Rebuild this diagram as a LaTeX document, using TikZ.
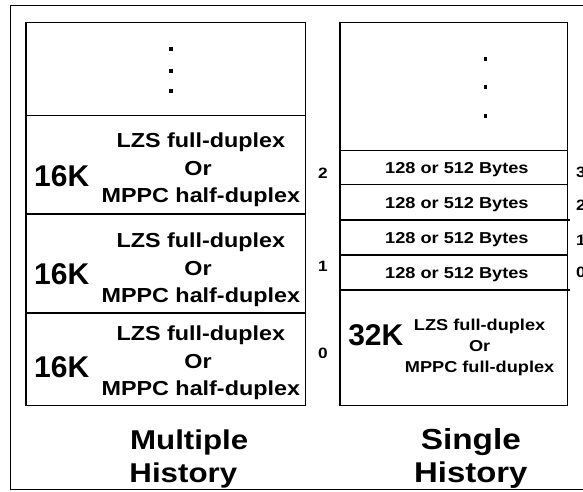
\documentclass[tikz,border=0pt]{standalone}
\usepackage{fontspec}
\setmainfont{Liberation Sans}[FakeStretch=1.15]
\newfontfamily\plainsans{Liberation Sans}
\begin{document}
\begin{tikzpicture}[x=1pt,y=-1pt,
  frame/.style={line width=1pt},
  cell/.style={line width=1.2pt},
  dotmark/.style={fill=black},
  txt/.style={anchor=base,inner sep=0pt,font=\bfseries\fontsize{20.3}{24}\selectfont},
  smalltxt/.style={anchor=base,inner sep=0pt,font=\bfseries\fontsize{15.8}{19}\selectfont},
  size/.style={anchor=base,inner sep=0pt,font=\plainsans\bfseries\fontsize{30}{36}\selectfont},
  idx/.style={anchor=base,inner sep=0pt,font=\bfseries\fontsize{15}{18}\selectfont},
  title/.style={anchor=base,inner sep=0pt,font=\bfseries\fontsize{27.2}{32}\selectfont},
]
\useasboundingbox (0,0) rectangle (583,491);
\fill[white] (0,0) rectangle (583,491);

% outer frame (its right side lies past the page edge)
\draw[frame] (10,5) rectangle (600,489);

% ---- multiple history column ----
\draw[cell] (26,22.7) rectangle (305.7,405.7);
\draw[cell] (26,115.7) -- (305.7,115.7);
\draw[cell] (26,214) -- (305.7,214);
\draw[cell] (26,313) -- (305.7,313);
\foreach \y in {49,71,91} \fill[dotmark] (169.3,\y-1.7) rectangle ++(3.4,3.4);

\node[size] (m2k) at (61.7,186.7) {16K};
\node[txt]  (m2a) at (200.8,147.3) {LZS full-duplex};
\node[txt]  (m2b) at (198,175) {Or};
\node[txt]  (m2c) at (200.8,202.7) {MPPC half-duplex};

\node[size] (m1k) at (61.7,284) {16K};
\node[txt]  (m1a) at (200.8,247.3) {LZS full-duplex};
\node[txt]  (m1b) at (198,275.7) {Or};
\node[txt]  (m1c) at (200.8,302.3) {MPPC half-duplex};

\node[size] (m0k) at (61.7,377.3) {16K};
\node[txt]  (m0a) at (200.8,340.7) {LZS full-duplex};
\node[txt]  (m0b) at (198,368.3) {Or};
\node[txt]  (m0c) at (200.8,395.7) {MPPC half-duplex};

\node[idx] (l2) at (323,178.7) {2};
\node[idx] (l1) at (323,271.4) {1};
\node[idx] (l0) at (323,358) {0};

% ---- single history column ----
\draw[cell] (340,22.7) rectangle (567.3,405.7);
\draw[cell] (340,150.7) -- (567.3,150.7);
\draw[cell] (340,184.3) -- (567.3,184.3);
\draw[cell] (340,220) -- (569.5,220);
\draw[cell] (340,255) -- (567.3,255);
\draw[cell] (340,290) -- (569.5,290);
\foreach \y in {59,87,116} \fill[dotmark] (483.8,\y-1.8) rectangle ++(3.6,3.6);

\node[smalltxt] (b3) at (456.9,173.3) {128 or 512 Bytes};
\node[smalltxt] (b2) at (456.9,208) {128 or 512 Bytes};
\node[smalltxt] (b1) at (456.9,243.3) {128 or 512 Bytes};
\node[smalltxt] (b0) at (456.9,278) {128 or 512 Bytes};

\node[idx] (r3) at (581,177) {3};
\node[idx] (r2) at (581,210.5) {2};
\node[idx] (r1) at (581,245) {1};
\node[idx] (r0) at (581,277.5) {0};

\node[size]     (s32) at (375.8,345.7) {32K};
\node[smalltxt] (sa)  at (479.6,330.7) {LZS full-duplex};
\node[smalltxt] (sb)  at (479.6,351.3) {Or};
\node[smalltxt] (sc)  at (479.6,372.7) {MPPC full-duplex};

% ---- column titles ----
\node[title] (t1) at (189.2,449) {Multiple};
\node[title] (t2) at (183.3,482.3) {History};
\node[title,font=\bfseries\fontsize{29}{34}\selectfont] (t3) at (470.8,449) {Single};
\node[title,font=\bfseries\fontsize{28.6}{34}\selectfont] (t4) at (470.8,482.3) {History};
\end{tikzpicture}
\end{document}
